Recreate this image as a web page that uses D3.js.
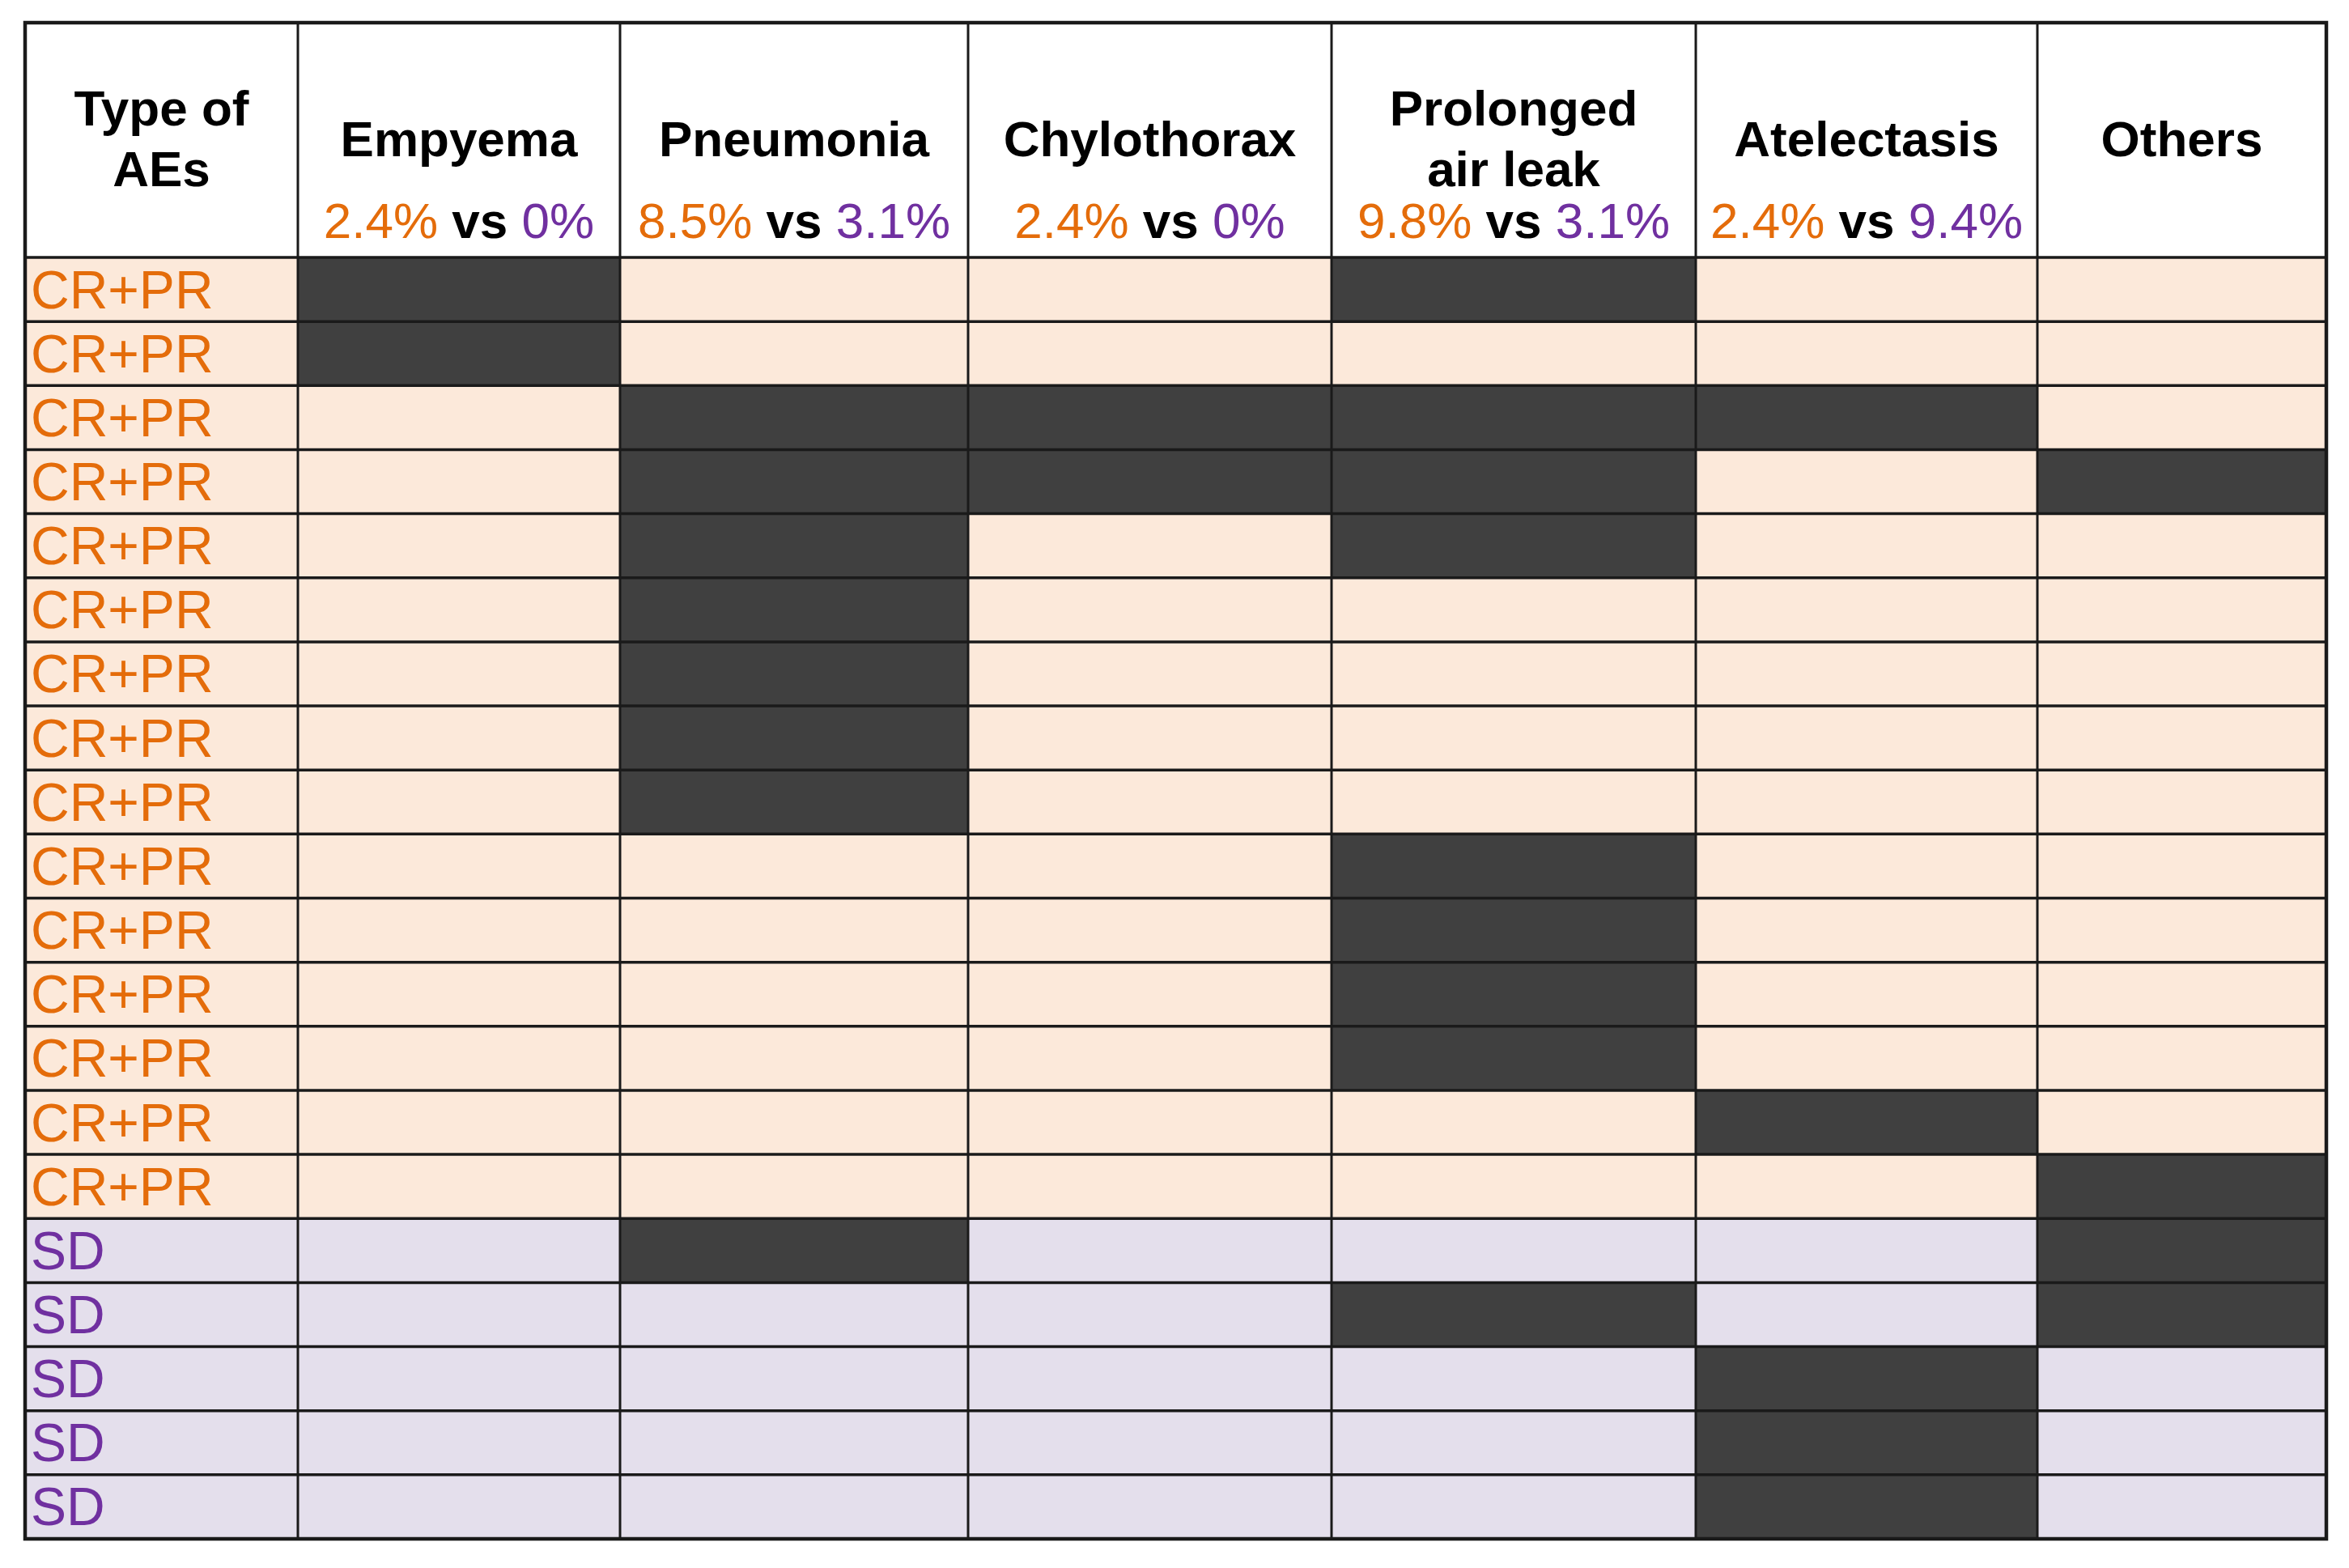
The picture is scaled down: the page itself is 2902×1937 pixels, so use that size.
<!DOCTYPE html>
<html>
<head>
<meta charset="utf-8">
<script src="https://cdn.jsdelivr.net/npm/d3@7"></script>
<style>
  body { margin: 0; background: #fff; }
  svg { display: block; }
</style>
</head>
<body>
<div id="viz_container"></div>
<script>
// adverse events by patient, responders (CR+PR) vs stable disease (SD)
const columns = ["Empyema", "Pneumonia", "Chylothorax", "Prolonged air leak", "Atelectasis", "Others"];
const headerLines = [["Empyema"], ["Pneumonia"], ["Chylothorax"], ["Prolonged", "air leak"], ["Atelectasis"], ["Others"]];
const rateResponders = ["2.4%", "8.5%", "2.4%", "9.8%", "2.4%", null];
const rateSD = ["0%", "3.1%", "0%", "3.1%", "9.4%", null];
const rowLabels = [
    "CR+PR", "CR+PR", "CR+PR", "CR+PR", "CR+PR", "CR+PR", "CR+PR", "CR+PR",
    "CR+PR", "CR+PR", "CR+PR", "CR+PR", "CR+PR", "CR+PR", "CR+PR",
    "SD", "SD", "SD", "SD", "SD"
];
// 1 = event present, columns in the order above
const events = [
    [1, 0, 0, 1, 0, 0],
    [1, 0, 0, 0, 0, 0],
    [0, 1, 1, 1, 1, 0],
    [0, 1, 1, 1, 0, 1],
    [0, 1, 0, 1, 0, 0],
    [0, 1, 0, 0, 0, 0],
    [0, 1, 0, 0, 0, 0],
    [0, 1, 0, 0, 0, 0],
    [0, 1, 0, 0, 0, 0],
    [0, 0, 0, 1, 0, 0],
    [0, 0, 0, 1, 0, 0],
    [0, 0, 0, 1, 0, 0],
    [0, 0, 0, 1, 0, 0],
    [0, 0, 0, 0, 1, 0],
    [0, 0, 0, 0, 0, 1],
    [0, 1, 0, 0, 0, 1],
    [0, 0, 0, 1, 0, 1],
    [0, 0, 0, 0, 1, 0],
    [0, 0, 0, 0, 1, 0],
    [0, 0, 0, 0, 1, 0]
];

const W = 2902, H = 1937;
const tLeft = 31, tRight = 2874, tTop = 28, headBottom = 318, tBottom = 1901;
// column edges (first column holds the row labels)
const colEdges = [tLeft, 368, 766, 1196, 1645, 2095, 2517, tRight];

const orange = "#E46C0A";
const purple = "#7030A0";
const groupFill = { "CR+PR": "#FCE9DA", "SD": "#E4DFEC" };
const eventFill = "#404040";
const lineColor = "#1a1a1a";
const font = "'Liberation Sans', Arial, sans-serif";

const svg = d3.select("#viz_container")
    .append("svg")
    .attr("width", W)
    .attr("height", H)
    .style("font-family", font);

svg.append("rect").attr("width", W).attr("height", H).attr("fill", "#fff");

const yScale = d3.scaleBand()
    .domain(d3.range(rowLabels.length))
    .range([headBottom, tBottom]);

const xScale = d3.scaleOrdinal()
    .domain(["label"].concat(columns))
    .range(colEdges.slice(0, -1));
const colWidth = name => {
    const i = xScale.domain().indexOf(name);
    return colEdges[i + 1] - colEdges[i];
};

// cells
const rows = svg.append("g")
    .selectAll("g")
    .data(rowLabels)
    .join("g");

rows.selectAll("rect")
    .data((d, i) => ["label"].concat(columns).map((c, j) => ({
        row: i, col: c, group: d, on: j > 0 && events[i][j - 1] === 1
    })))
    .join("rect")
    .attr("x", d => xScale(d.col))
    .attr("y", d => yScale(d.row))
    .attr("width", d => colWidth(d.col))
    .attr("height", yScale.bandwidth())
    .attr("fill", d => d.on ? eventFill : groupFill[d.group]);

// row labels
svg.append("g")
    .selectAll("text")
    .data(rowLabels)
    .join("text")
    .attr("x", tLeft + 7)
    .attr("y", (d, i) => yScale(i) + yScale.bandwidth() / 2 + 23)
    .attr("font-size", 66)
    .attr("fill", d => d === "SD" ? purple : orange)
    .text(d => d);

// header
const header = svg.append("g");

header.append("text")
    .attr("text-anchor", "middle")
    .attr("font-size", 62)
    .attr("font-weight", "bold")
    .selectAll("tspan")
    .data(["Type of", "AEs"])
    .join("tspan")
    .attr("x", (colEdges[0] + colEdges[1]) / 2)
    .attr("y", (d, i) => 155 + i * 75)
    .text(d => d);

columns.forEach((c, i) => {
    const cx = xScale(c) + colWidth(c) / 2;
    const lines = headerLines[i];
    header.append("text")
        .attr("text-anchor", "middle")
        .attr("font-size", 62)
        .attr("font-weight", "bold")
        .selectAll("tspan")
        .data(lines)
        .join("tspan")
        .attr("x", cx)
        .attr("y", (d, k) => lines.length === 1 ? 193 : 155 + k * 75)
        .text(d => d);

    if (rateResponders[i] !== null) {
        const t = header.append("text")
            .attr("x", cx)
            .attr("y", 294)
            .attr("text-anchor", "middle")
            .attr("font-size", 62);
        t.append("tspan").attr("fill", orange).text(rateResponders[i]);
        t.append("tspan").attr("font-weight", "bold").attr("fill", "#000").text(" vs ");
        t.append("tspan").attr("fill", purple).text(rateSD[i]);
    }
});

// grid lines
const grid = svg.append("g")
    .attr("stroke", lineColor)
    .attr("stroke-width", 3.5);

grid.selectAll("line.h")
    .data(d3.range(rowLabels.length))
    .join("line")
    .attr("class", "h")
    .attr("x1", tLeft)
    .attr("x2", tRight)
    .attr("y1", d => yScale(d))
    .attr("y2", d => yScale(d));

grid.selectAll("line.v")
    .data(colEdges.slice(1, -1))
    .join("line")
    .attr("class", "v")
    .attr("x1", d => d)
    .attr("x2", d => d)
    .attr("y1", tTop)
    .attr("y2", tBottom)
    .attr("stroke-width", 3);

grid.append("rect")
    .attr("x", tLeft)
    .attr("y", tTop)
    .attr("width", tRight - tLeft)
    .attr("height", tBottom - tTop)
    .attr("fill", "none")
    .attr("stroke-width", 4.5);
</script>
</body>
</html>
